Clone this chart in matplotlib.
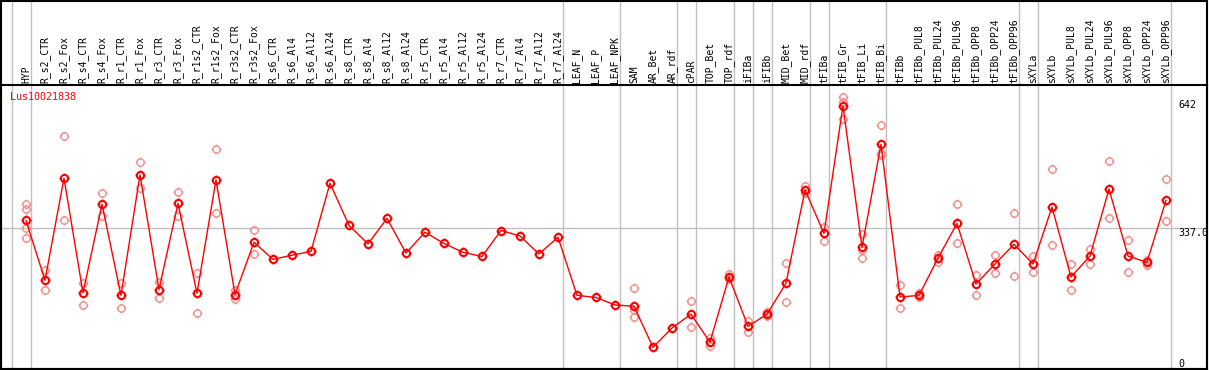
import numpy as np
import matplotlib
matplotlib.use("Agg")
import matplotlib.pyplot as plt
from matplotlib.path import Path
from matplotlib.transforms import blended_transform_factory

gene = "Lus10021838"

samples = ["HYP", "R_s2_CTR", "R_s2_Fox", "R_s4_CTR", "R_s4_Fox", "R_r1_CTR", "R_r1_Fox",
           "R_r3_CTR", "R_r3_Fox", "R_r1s2_CTR", "R_r1s2_Fox", "R_r3s2_CTR", "R_r3s2_Fox",
           "R_s6_CTR", "R_s6_Al4", "R_s6_Al12", "R_s6_Al24", "R_s8_CTR", "R_s8_Al4",
           "R_s8_Al12", "R_s8_Al24", "R_r5_CTR", "R_r5_Al4", "R_r5_Al12", "R_r5_Al24",
           "R_r7_CTR", "R_r7_Al4", "R_r7_Al12", "R_r7_Al24", "LEAF_N", "LEAF_P", "LEAF_NPK",
           "SAM", "AR_Bet", "AR_rdf", "cPAR", "TOP_Bet", "TOP_rdf", "iFIBa", "iFIBb",
           "MID_Bet", "MID_rdf", "tFIBa", "tFIB_Gr", "tFIB_Li", "tFIB_Bi", "tFIBb",
           "tFIBb_PUL8", "tFIBb_PUL24", "tFIBb_PUL96", "tFIBb_OPP8", "tFIBb_OPP24",
           "tFIBb_OPP96", "sXYLa", "sXYLb", "sXYLb_PUL8", "sXYLb_PUL24", "sXYLb_PUL96",
           "sXYLb_OPP8", "sXYLb_OPP24", "sXYLb_OPP96"]

means = [355, 212, 456, 182, 394, 176, 464, 190, 396, 181, 452, 178, 303,
         262, 272, 281, 444, 343, 299, 360, 277, 327, 300, 279, 269,
         331, 318, 275, 315, 176, 171, 153,
         150, 52, 98, 131, 64, 220, 102, 131, 205, 428, 324,
         629, 291, 537, 172, 176, 265, 348, 203, 251, 298,
         251, 387, 220, 270, 430, 270, 255, 403]

reps = [[394, 383, 336, 312], [237, 190], [557, 355], [206, 153], [420, 366],
        [206, 145], [495, 432], [209, 169], [423, 366], [229, 135], [527, 372],
        [189, 167], [332, 274],
        [], [], [], [], [], [], [], [], [], [], [], [], [], [], [], [], [], [], [],
        [194, 141, 125], [], [], [162, 100], [73, 55], [226, 214], [115, 89],
        [127, 136], [253, 160], [438, 420], [340, 306],
        [649, 639, 597], [323, 284, 265], [582, 517, 511], [200, 145], [181, 171],
        [273, 255], [394, 300], [224, 178], [272, 229], [374, 222],
        [270, 231], [478, 296], [251, 188], [287, 251], [497, 360], [308, 231],
        [260, 249], [453, 353]]

# group separators (placed just right of these sample indices)
separators = [-1, 0, 28, 31, 34, 35, 37, 38, 39, 41, 42, 45, 52, 53, 60]

y_max = 642
y_mid = 337.0

W, H = 1209, 370
fig = plt.figure(figsize=(W / 100, H / 100), dpi=100)
top_px, bot_px, left_px, right_px = 85, 369, 1, 1207
ax = fig.add_axes([left_px / W, 1 - bot_px / H, (right_px - left_px) / W, (bot_px - top_px) / H])

# pixel mapping: x = 26 + 19 * i
ax.set_xlim((left_px - 26) / 19, (right_px - 26) / 19)
ax.set_ylim(0, (bot_px - top_px) / 0.4184)
ax.set_xticks([])
ax.set_yticks([])
for s in ax.spines.values():
    s.set_linewidth(1.5)
    s.set_color("black")

# marker: hollow circle with small spokes
circ = Path.unit_circle()
spokes = []
for dx, dy in [(0, 1), (0, -1), (1, 0), (-1, 0)]:
    spokes.append(Path([(dx * 1.0, dy * 1.0), (dx * 1.35, dy * 1.35)], [Path.MOVETO, Path.LINETO]))
marker_path = Path.make_compound_path(circ, *spokes)

frac_top = (bot_px - 0) / (bot_px - top_px)
for sep in separators:
    ax.axvline(sep + 0.24, ymin=0, ymax=frac_top, color="#c0c0c0", lw=1, clip_on=False, zorder=0)
ax.axhline(y_mid, color="#c0c0c0", lw=1, zorder=0)

x = np.arange(len(samples))
for i, r in enumerate(reps):
    if r:
        ax.plot([i] * len(r), r, linestyle="none", marker=marker_path, markersize=7,
                markerfacecolor="none", markeredgecolor="#f09494", markeredgewidth=1.1, zorder=2)

ax.plot(x, means, color="red", lw=1, zorder=3)
ax.plot(x, means, linestyle="none", marker=marker_path, markersize=7,
        markerfacecolor="none", markeredgecolor="red", markeredgewidth=1.5, zorder=4)

font = "DejaVu Sans Mono"
tr = blended_transform_factory(ax.transData, ax.transAxes)
lab_y = 1 + 2 / (bot_px - top_px)
for i, s in enumerate(samples):
    ax.text(i, lab_y, s, transform=tr, rotation=90, ha="center", va="bottom",
            fontsize=7, family=font, clip_on=False)

ax.text(9 / 1206, (bot_px - 97) / (bot_px - top_px), gene, transform=ax.transAxes,
        color="red", fontsize=7.2, family=font, va="center", ha="left")

tr2 = blended_transform_factory(ax.transAxes, ax.transData)
xr = (1178 - left_px) / (right_px - left_px)
ax.text(xr, y_max, "642", transform=tr2, va="top", ha="left", fontsize=7.2, family=font)
ax.text(xr, y_mid, "337.0", transform=tr2, va="top", ha="left", fontsize=7.2, family=font, clip_on=False)
ax.text(xr, 0, "0", transform=tr2, va="bottom", ha="left", fontsize=7.2, family=font)

# outer frame
fig.add_artist(plt.Rectangle((left_px / W, 1 - bot_px / H), (right_px - left_px) / W,
                             (bot_px - 0.5) / H, transform=fig.transFigure, fill=False,
                             edgecolor="black", lw=1.5))

fig.savefig("out.png", dpi=100)
